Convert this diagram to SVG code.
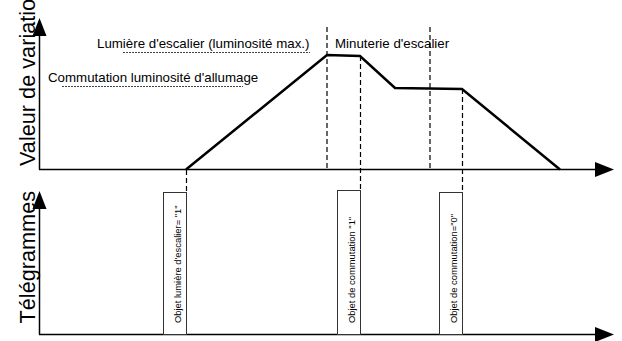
<svg xmlns="http://www.w3.org/2000/svg" width="622" height="341" viewBox="0 0 622 341">
  <style>
    .axis { stroke: #000; stroke-width: 1.5; fill: none; }
    .head { fill: #000; stroke: none; }
    .curve { stroke: #000; stroke-width: 2.5; fill: none; stroke-linejoin: miter; }
    .guide { stroke: #000; stroke-width: 1.2; stroke-dasharray: 5 3; fill: none; }
    .under { stroke: #444; stroke-width: 1; stroke-dasharray: 2 1; fill: none; }
    .box { stroke: #333; stroke-width: 1; fill: #fff; }
    .big { font-family: "Liberation Sans", Arial, sans-serif; font-size: 21.7px; fill: #000; }
    .lbl { font-family: "Liberation Sans", Arial, sans-serif; font-size: 13.3px; fill: #000; }
    .tg { font-family: "Liberation Sans", Arial, sans-serif; font-size: 9.4px; fill: #000; }
  </style>

  <!-- upper chart: brightness value over time -->
  <g id="axis-value">
    <line class="axis" x1="39.5" y1="34" x2="39.5" y2="169.5"/>
    <line class="axis" x1="39" y1="169.5" x2="597" y2="169.5"/>
    <polygon class="head" points="39.5,18 46.5,36 32.5,36"/>
    <polygon class="head" points="614,169.5 595,162 595,177"/>
    <text class="big" transform="translate(34.5,166) rotate(-90)">Valeur de variatio</text>
  </g>

  <!-- lower chart: telegrams over time -->
  <g id="axis-telegram">
    <line class="axis" x1="39.5" y1="207" x2="39.5" y2="334.5"/>
    <line class="axis" x1="39" y1="334.5" x2="597" y2="334.5"/>
    <polygon class="head" points="39.5,191 46.5,209 32.5,209"/>
    <polygon class="head" points="614,334.5 595,327 595,342"/>
    <text class="big" transform="translate(34.5,323.5) rotate(-90)">Télégrammes</text>
  </g>

  <!-- brightness curve and time markers -->
  <g id="connectors">
    <polyline class="curve" points="186,169.5 327,55 360,56 395,88 462,89 560,169.5"/>
    <line class="guide" x1="186.5" y1="170" x2="186.5" y2="192"/>
    <line class="guide" x1="327" y1="27" x2="327" y2="169"/>
    <line class="guide" x1="360.5" y1="56" x2="360.5" y2="190"/>
    <line class="guide" x1="430" y1="27" x2="430" y2="169"/>
    <line class="guide" x1="462.5" y1="89" x2="462.5" y2="192"/>
  </g>

  <!-- level labels -->
  <g id="label-max">
    <text class="lbl" x="97" y="48">Lumière d'escalier (luminosité max.)</text>
    <line class="under" x1="123" y1="52.5" x2="310" y2="52.5"/>
  </g>
  <g id="label-switch">
    <text class="lbl" x="48" y="82">Commutation luminosité d'allumage</text>
    <line class="under" x1="62" y1="86.5" x2="243" y2="86.5"/>
  </g>
  <g id="label-timer">
    <text class="lbl" x="335" y="48">Minuterie d'escalier</text>
  </g>

  <!-- telegrams -->
  <g id="telegram-1">
    <rect class="box" x="163.5" y="192.5" width="23" height="142"/>
    <text class="tg" transform="translate(181,323) rotate(-90)">Objet lumière d'escalier= "1"</text>
  </g>
  <g id="telegram-2">
    <rect class="box" x="337.5" y="190.5" width="23" height="144"/>
    <text class="tg" transform="translate(355,323) rotate(-90)">Objet de commutation "1"</text>
  </g>
  <g id="telegram-3">
    <rect class="box" x="439.5" y="192.5" width="23" height="142"/>
    <text class="tg" transform="translate(457,323) rotate(-90)">Objet de commutation="0"</text>
  </g>
</svg>
